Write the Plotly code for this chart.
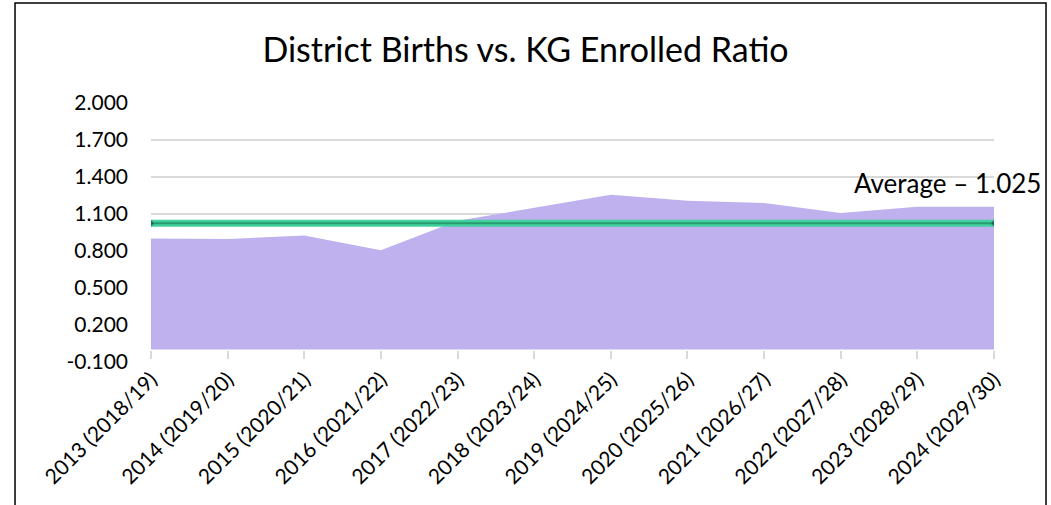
import plotly.graph_objects as go

# data
categories = ["2013 (2018/19)", "2014 (2019/20)", "2015 (2020/21)", "2016 (2021/22)",
              "2017 (2022/23)", "2018 (2023/24)", "2019 (2024/25)", "2020 (2025/26)",
              "2021 (2026/27)", "2022 (2027/28)", "2023 (2028/29)", "2024 (2029/30)"]
ratio = [0.902, 0.897, 0.926, 0.805, 1.045, 1.151, 1.256, 1.208, 1.189, 1.108, 1.159, 1.159]
average = 1.025
y_ticks = [-0.1, 0.2, 0.5, 0.8, 1.1, 1.4, 1.7, 2.0]

FONT = "Lato"
idx = list(range(len(categories)))
y_min, y_max = -0.1, 2.0

fig = go.Figure()

# ratio area, filled down to zero
fig.add_trace(go.Scatter(
    x=idx, y=ratio, mode="lines", fill="tozeroy",
    fillcolor="#beb1ee", line=dict(width=0, color="#beb1ee"),
    name="Ratio", hoverinfo="x+y",
))

# average line: light green band with a darker core
avg_vals = [average] * len(idx)
fig.add_trace(go.Scatter(
    x=idx, y=avg_vals, mode="lines",
    line=dict(color="#42d09e", width=7), hoverinfo="skip",
))
fig.add_trace(go.Scatter(
    x=idx, y=avg_vals, mode="lines+markers", xaxis="x2",
    line=dict(color="#2a9a70", width=2),
    marker=dict(size=[5] + [0] * (len(idx) - 2) + [5], color="#1c4f3c", symbol="diamond"),
    name="Average",
))

fig.update_layout(
    width=1051, height=505,
    margin=dict(l=151, r=57, t=103, b=143, autoexpand=False),
    paper_bgcolor="white", plot_bgcolor="white",
    showlegend=False,
    font=dict(family=FONT, color="black"),
    title=dict(text="District Births vs. KG Enrolled Ratio", x=0.5, xanchor="center",
               y=0.9, yanchor="middle", font=dict(family=FONT, size=34, color="black")),
    xaxis=dict(
        range=[0, len(idx) - 1], tickmode="array", tickvals=idx, ticktext=categories,
        tickangle=-45, tickfont=dict(family=FONT, size=21, color="black"),
        showgrid=False, zeroline=False, showline=False, ticks="", automargin=False,
    ),
    xaxis2=dict(
        overlaying="x", anchor="free", position=(0 - y_min) / (y_max - y_min),
        range=[0, len(idx) - 1], tickmode="array", tickvals=idx,
        showticklabels=False, ticks="outside", ticklen=8, tickcolor="#d9d9d9", tickwidth=1.5,
        showgrid=False, zeroline=False, showline=False, automargin=False,
    ),
    yaxis=dict(
        range=[y_min - 0.001, y_max + 0.001], tickmode="array", tickvals=y_ticks,
        ticktext=[f"{v:.3f}" for v in y_ticks],
        tickfont=dict(family=FONT, size=21, color="black"),
        showgrid=True, gridcolor="#d9d9d9", gridwidth=1.5, zeroline=False, showline=False,
        ticklabelstandoff=22, automargin=False,
    ),
)

fig.add_annotation(
    x=idx[-1], y=average, text="Average \u2013 1.025", showarrow=False,
    xanchor="right", yanchor="middle", xshift=49, yshift=40,
    font=dict(family=FONT, size=26, color="black"),
)

# chart border
fig.add_shape(type="rect", xref="paper", yref="paper",
              x0=-0.1613, x1=1.0617, y0=-0.7, y1=1.386,
              line=dict(color="black", width=1.5), layer="above")

# drop the default 8px body margin so the figure fills the window exactly
fig.write_html("out.html", config={"displayModeBar": False},
               post_script="document.body.style.margin='0';"
                           "document.body.style.overflow='hidden';")
